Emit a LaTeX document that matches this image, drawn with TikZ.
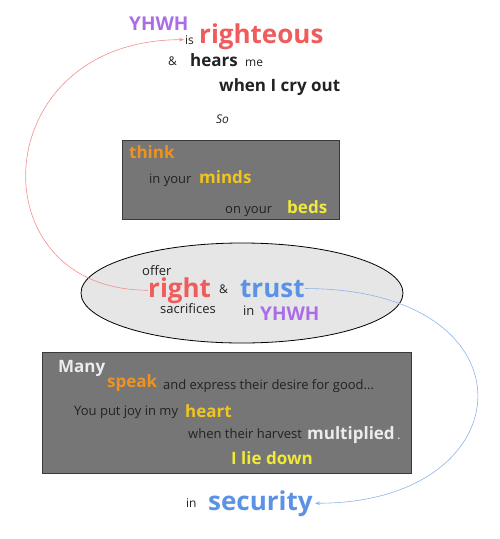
\documentclass[tikz,border=0pt]{standalone}
\usepackage{fontspec}
\setmainfont{Open Sans}
\usetikzlibrary{arrows.meta}
\definecolor{redword}{RGB}{240,92,92}
\definecolor{purpleword}{RGB}{170,108,232}
\definecolor{blueword}{RGB}{92,146,230}
\definecolor{orangeword}{RGB}{240,146,30}
\definecolor{goldword}{RGB}{242,196,30}
\definecolor{yellowword}{RGB}{242,234,56}
\definecolor{whiteword}{RGB}{236,236,236}
\definecolor{darkword}{RGB}{34,34,34}
\definecolor{boxfill}{RGB}{118,118,118}
\definecolor{boxline}{RGB}{58,58,58}
\definecolor{ovalfill}{RGB}{230,230,230}

\begin{document}
\begin{tikzpicture}[x=1pt,y=-1pt,
every node/.style={inner sep=0pt,anchor=base west},
sm/.style={font=\fontsize{13}{14}\selectfont,text=darkword},
mid/.style={font=\fontsize{17}{18}\selectfont\bfseries},
huge/.style={font=\fontsize{26}{28}\selectfont\bfseries},
panel/.style={fill=boxfill,draw=boxline,line width=1pt}]
\useasboundingbox (0,0) rectangle (500,539);
\draw[panel] (122,140) rectangle (339,219);
\draw[panel] (42,352) rectangle (411,473);
\draw[fill=ovalfill,draw=black,line width=0.8pt] (242,293) ellipse [x radius=161,y radius=50];
% top lines
\node[mid,font=\fontsize{19}{20}\selectfont\bfseries,text=purpleword] (yhwhtop) at (129,30) {YHWH};
\node[sm,font=\fontsize{12}{13}\selectfont] (is) at (185,44) {is};
\node[huge,text=redword] (righteous) at (199,43) {righteous};
\node[sm,font=\fontsize{12}{13}\selectfont] (amptop) at (168,65) {\&};
\node[mid,text=darkword] (hears) at (190,66) {hears};
\node[sm,font=\fontsize{12}{13}\selectfont] (me) at (245,66) {me};
\node[mid,text=darkword] (cry) at (219,91) {when I cry out};
\node[sm,font=\fontsize{12}{13}\selectfont\itshape] (so) at (216,123) {So};
% first box
\node[mid,text=orangeword] (think) at (129,158) {think};
\node[sm] (inyour) at (149,183) {in your};
\node[mid,text=goldword] (minds) at (199,183) {minds};
\node[sm] (onyour) at (225,213) {on your};
\node[mid,text=yellowword] (beds) at (287,213) {beds};
% oval
\node[sm] (offer) at (142,275) {offer};
\node[huge,text=redword] (right) at (148,297) {right};
\node[sm,font=\fontsize{12}{13}\selectfont] (ampmid) at (219,293) {\&};
\node[huge,text=blueword] (trust) at (240,297) {trust};
\node[sm] (sacrifices) at (160,313) {sacrifices};
\node[sm] (in) at (243,315) {in};
\node[mid,font=\fontsize{19}{20}\selectfont\bfseries,text=purpleword] (yhwh) at (260,320) {YHWH};
% second box
\node[mid,text=whiteword] (many) at (58,372) {Many};
\node[mid,text=orangeword] (speak) at (107,387) {speak};
\node[sm] (express) at (163,389) {and express their desire for good...};
\node[sm] (joy) at (74,415) {You put joy in my};
\node[mid,text=goldword] (heart) at (185,417) {heart};
\node[sm] (harvest) at (188,438) {when their harvest};
\node[mid,text=whiteword] (multiplied) at (307,439) {multiplied};
\node[sm,text=whiteword] (dot) at (397,439) {.};
\node[mid,text=yellowword] (liedown) at (231,464) {I lie down};
% bottom
\node[sm,font=\fontsize{12}{13}\selectfont] (inbottom) at (186,507) {in};
\node[huge,text=blueword] (security) at (208,510) {security};
% connectors
\draw[redword!70,line width=0.6pt,-{Stealth[length=5pt,width=3.5pt]}] (right.west) .. controls +(-173,0) and +(-199,0) .. ([xshift=-1pt]is.west);
\draw[blueword!70,line width=0.6pt,-{Stealth[length=5pt,width=3.5pt]}] (trust.east) .. controls +(235,0) and +(212,0) .. ([xshift=2pt]security.east);
\end{tikzpicture}
\end{document}
